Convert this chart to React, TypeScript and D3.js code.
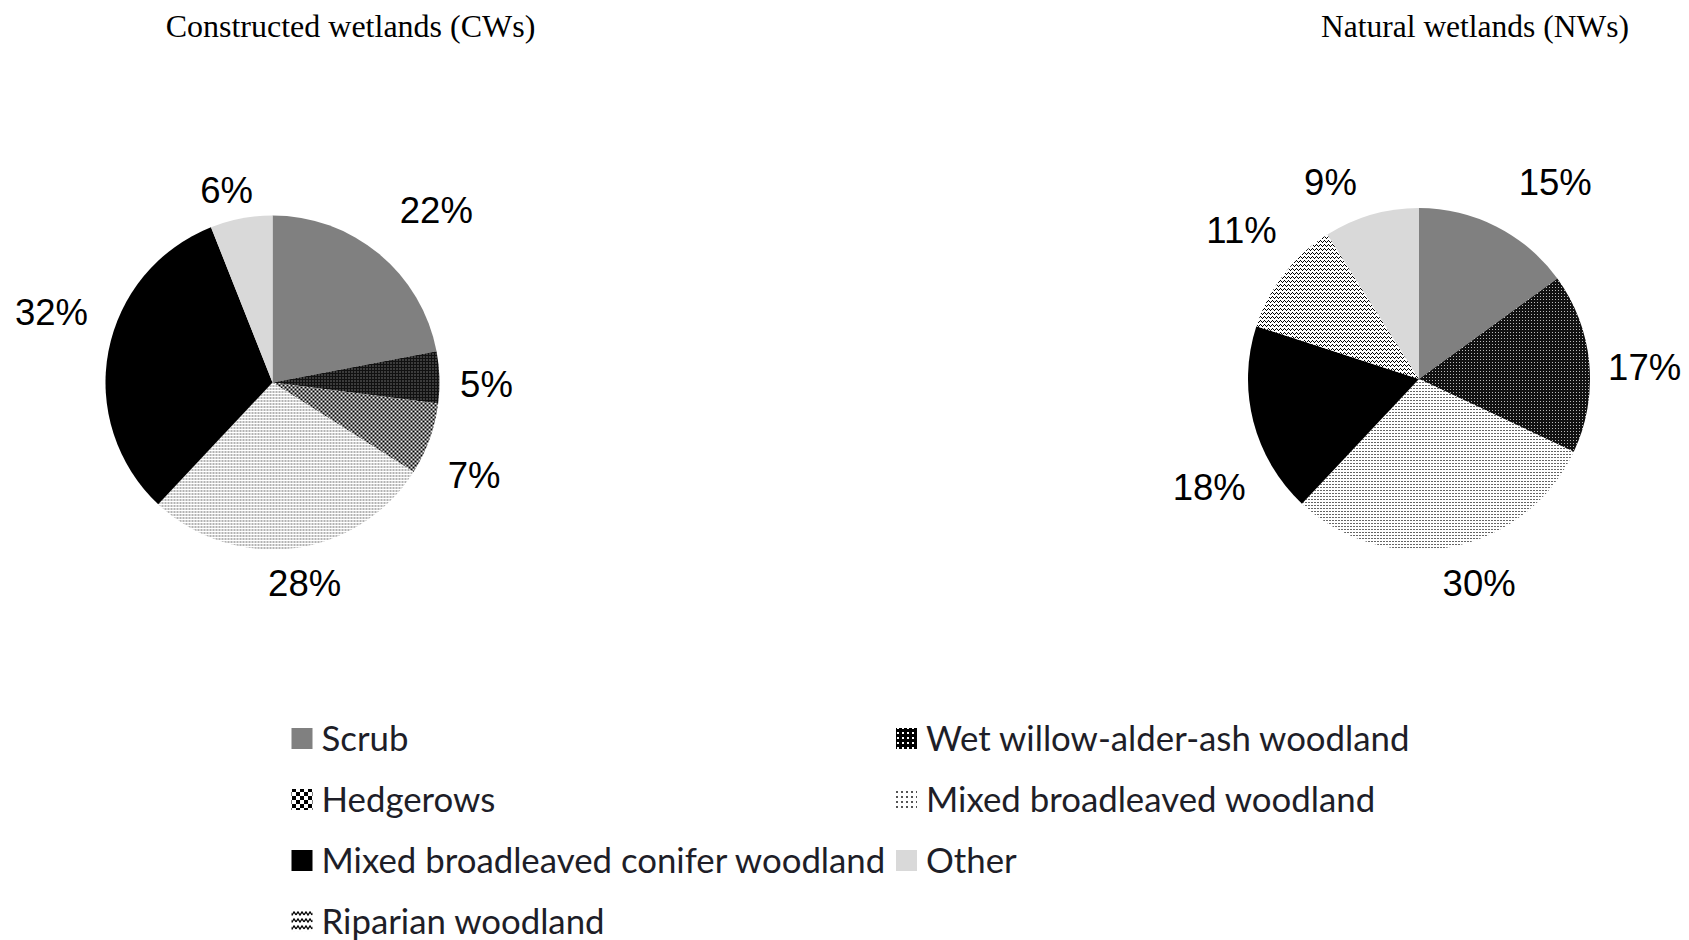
import React, { useEffect } from "react";
import * as d3 from "d3";

// ---------- data ----------
const categories = [
  "Scrub",
  "Wet willow-alder-ash woodland",
  "Hedgerows",
  "Mixed broadleaved woodland",
  "Mixed broadleaved conifer woodland",
  "Riparian woodland",
  "Other",
];
const cwValues = [22, 5, 7, 28, 32, 0, 6];
const nwValues = [15, 17, 0, 30, 18, 11, 9];
const chartTitles = ["Constructed wetlands (CWs)", "Natural wetlands (NWs)"];
const legendOrder = [0, 1, 2, 3, 4, 6, 5];

// ---------- layout / style ----------
const W = 1689;
const H = 940;
const pieFills = ["#808080", "url(#pWet)", "url(#pHedge)", "url(#pMixed)", "#000000", "url(#pRip)", "#d9d9d9"];
const legendFills = ["#808080", "url(#lWet)", "url(#lHedge)", "url(#lMixed)", "#000000", "url(#lRip)", "#d9d9d9"];

// label placement relative to slice mid-angle (degrees shift, distance from centre)
const cwLabelPlace = [
  { da: 3.9, d: 238 },
  { da: 2.2, d: 214 },
  { da: 4.9, d: 222 },
  { da: -1.9, d: 203 },
  { da: 6.9, d: 232 },
  { da: 0, d: 210 },
  { da: -2.6, d: 198 },
];
const nwLabelPlace = [
  { da: 7.6, d: 240 },
  { da: 2.2, d: 226 },
  { da: 0, d: 210 },
  { da: -5.6, d: 213 },
  { da: -12.9, d: 236 },
  { da: 2.3, d: 232 },
  { da: -8.0, d: 216 },
];

type Place = { da: number; d: number };

function Pie(props: { values: number[]; cx: number; cy: number; r: number; place: Place[] }) {
  const { values, cx, cy, r, place } = props;
  const arcs = d3.pie<number>().sort(null).value((d) => d)(values);
  const arc = d3.arc<d3.PieArcDatum<number>>().innerRadius(0).outerRadius(r);
  return (
    <g transform={`translate(${cx},${cy})`}>
      {arcs.map((a, i) =>
        a.value > 0 ? <path key={"s" + i} d={arc(a) || ""} fill={pieFills[i]} /> : null
      )}
      {arcs.map((a, i) => {
        if (a.value <= 0) return null;
        const p = place[i];
        const ang = (a.startAngle + a.endAngle) / 2 + (p.da * Math.PI) / 180;
        const x = Math.sin(ang) * p.d;
        const y = -Math.cos(ang) * p.d;
        return (
          <text
            key={"l" + i}
            x={x}
            y={y}
            dy="0.36em"
            textAnchor="middle"
            fontFamily="'Liberation Sans', Arial, sans-serif"
            fontSize={36.5}
            fill="#000"
          >
            {a.value}%
          </text>
        );
      })}
    </g>
  );
}

function Patterns() {
  return (
    <defs>
      <pattern id="pWet" width={3} height={3} patternUnits="userSpaceOnUse">
        <rect width={3} height={3} fill="#111" />
        <rect x={1} y={1} width={1} height={1} fill="#bbb" />
      </pattern>
      <pattern id="pHedge" width={4} height={4} patternUnits="userSpaceOnUse">
        <rect width={4} height={4} fill="#eee" />
        <rect x={0} y={0} width={2} height={2} fill="#000" />
        <rect x={2} y={2} width={2} height={2} fill="#000" />
      </pattern>
      <pattern id="pMixed" width={3} height={3} patternUnits="userSpaceOnUse">
        <rect width={3} height={3} fill="#fff" />
        <rect x={0} y={0} width={2} height={1} fill="#666" />
      </pattern>
      <pattern id="pRip" width={4} height={4} patternUnits="userSpaceOnUse">
        <rect width={4} height={4} fill="#fff" />
        <rect x={0} y={2} width={1} height={1} fill="#000" />
        <rect x={1} y={1} width={1} height={1} fill="#000" />
        <rect x={2} y={2} width={1} height={1} fill="#000" />
        <rect x={3} y={3} width={1} height={1} fill="#000" />
      </pattern>
      <pattern id="lWet" width={5} height={5} patternUnits="userSpaceOnUse">
        <rect width={5} height={5} fill="#000" />
        <rect x={2} y={2} width={2} height={2} fill="#fff" />
      </pattern>
      <pattern id="lHedge" width={8} height={8} patternUnits="userSpaceOnUse">
        <rect width={8} height={8} fill="#fff" />
        <rect x={0} y={0} width={4} height={4} fill="#000" />
        <rect x={4} y={4} width={4} height={4} fill="#000" />
      </pattern>
      <pattern id="lMixed" width={5} height={5} patternUnits="userSpaceOnUse">
        <rect width={5} height={5} fill="#fff" />
        <rect x={1} y={1} width={2} height={2} fill="#555" />
      </pattern>
      <pattern id="lRip" width={8} height={7} patternUnits="userSpaceOnUse">
        <rect width={8} height={7} fill="#fff" />
        <path d="M0,5 L2,2 L4,5 L6,2 L8,5" stroke="#000" strokeWidth={1.3} fill="none" />
      </pattern>
    </defs>
  );
}

export default function App() {
  useEffect(() => {
    document.body.style.margin = "0";
    document.body.style.overflow = "hidden";
  }, []);

  const legendX = [291.5, 896];
  const legendY0 = 728;
  const rowGap = 61;
  const sw = 21;

  return (
    <div style={{ position: "absolute", left: 0, top: 0, width: W, height: H, background: "#fff" }}>
      <svg width={W} height={H} style={{ display: "block" }}>
        <Patterns />
        <rect width={W} height={H} fill="#fff" />
        <text
          x={350.5}
          y={37}
          textAnchor="middle"
          fontFamily="'Liberation Serif', 'Times New Roman', serif"
          fontSize={32}
          fill="#000"
        >
          {chartTitles[0]}
        </text>
        <text
          x={1475}
          y={37}
          textAnchor="middle"
          fontFamily="'Liberation Serif', 'Times New Roman', serif"
          fontSize={31.5}
          fill="#000"
        >
          {chartTitles[1]}
        </text>
        <Pie values={cwValues} cx={272.5} cy={382.5} r={167} place={cwLabelPlace} />
        <Pie values={nwValues} cx={1419} cy={379} r={171} place={nwLabelPlace} />
        <g>
          {legendOrder.map((ci, k) => {
            const col = k % 2;
            const row = Math.floor(k / 2);
            const x = legendX[col];
            const y = legendY0 + row * rowGap;
            return (
              <g key={ci}>
                <rect x={x} y={y} width={sw} height={sw} fill={legendFills[ci]} />
                <text
                  x={x + 30}
                  y={y + sw / 2}
                  dy="0.36em"
                  fontFamily="Lato, 'Open Sans', sans-serif"
                  fontSize={34.8}
                  fill="#1e1e28"
                >
                  {categories[ci]}
                </text>
              </g>
            );
          })}
        </g>
      </svg>
    </div>
  );
}
